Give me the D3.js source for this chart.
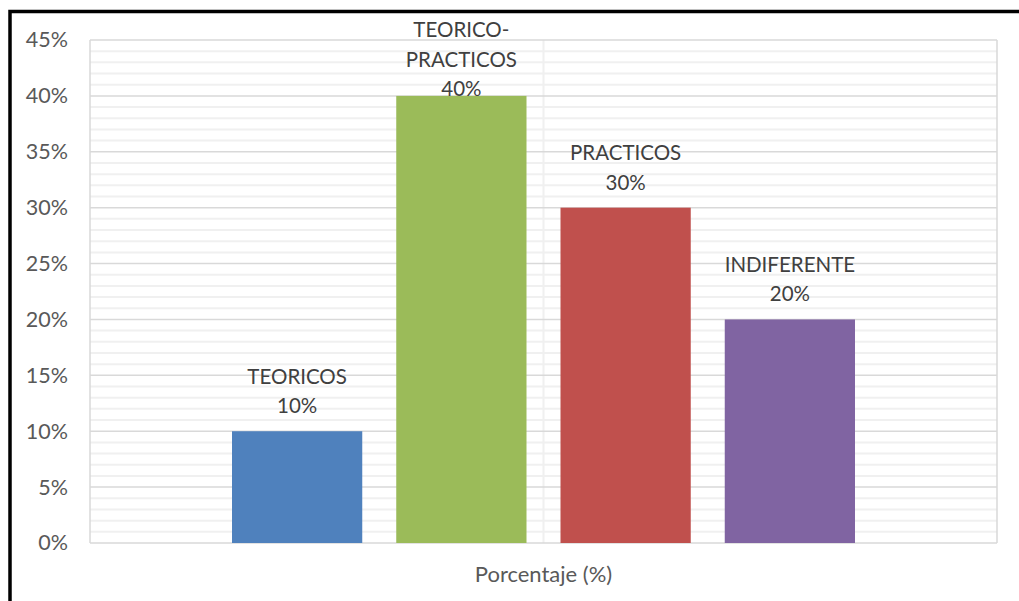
<!DOCTYPE html>
<html>
<head>
<meta charset="utf-8">
<script src="https://cdn.jsdelivr.net/npm/d3@7"></script>
<style>
html,body{margin:0;padding:0;background:#fff;}
svg{display:block;}
</style>
</head>
<body>
<svg id="chart" width="1019" height="601"></svg>
<script>
const categories = ["Porcentaje (%)"];
const seriesNames = ["TEORICOS", "TEORICO-PRACTICOS", "PRACTICOS", "INDIFERENTE"];
const labelLines = [["TEORICOS"], ["TEORICO-", "PRACTICOS"], ["PRACTICOS"], ["INDIFERENTE"]];
const values = [0.10, 0.40, 0.30, 0.20];
const colors = ["#4f81bd", "#9bbb59", "#c0504d", "#8064a2"];
const yTicks = [0, 0.05, 0.10, 0.15, 0.20, 0.25, 0.30, 0.35, 0.40, 0.45];
const yMinorTicks = d3.range(0, 46).map(d => d / 100);

const svg = d3.select("#chart");
const font = "Lato, 'Liberation Sans', sans-serif";
const plot = {left: 90, right: 997, top: 40, bottom: 543};

// frame
svg.append("rect").attr("x", 10).attr("y", 11.5).attr("width", 1030).attr("height", 620)
  .attr("fill", "none").attr("stroke", "#000").attr("stroke-width", 3.5);

const y = d3.scaleLinear().domain([0, 0.45]).range([plot.bottom, plot.top]);
const xCat = d3.scaleBand().domain(categories).range([plot.left, plot.right]);
const xSer = d3.scaleBand().domain(seriesNames)
  .range([xCat(categories[0]) + 142, xCat(categories[0]) + xCat.bandwidth() - 142])
  .paddingInner(0.207);

// minor gridlines
svg.append("g").selectAll("line").data(yMinorTicks.filter(d => Math.round(d * 100) % 5 !== 0))
  .join("line")
  .attr("x1", plot.left).attr("x2", plot.right)
  .attr("y1", d => y(d)).attr("y2", d => y(d))
  .attr("stroke", "#f0f0f0").attr("stroke-width", 2);

// minor vertical gridline at category center
svg.append("line")
  .attr("x1", xCat(categories[0]) + xCat.bandwidth() / 2).attr("x2", xCat(categories[0]) + xCat.bandwidth() / 2)
  .attr("y1", plot.top).attr("y2", plot.bottom)
  .attr("stroke", "#f0f0f0").attr("stroke-width", 2);

// major gridlines
svg.append("g").selectAll("line").data(yTicks).join("line")
  .attr("x1", plot.left).attr("x2", plot.right)
  .attr("y1", d => y(d)).attr("y2", d => y(d))
  .attr("stroke", "#d9d9d9").attr("stroke-width", 1.5);

// vertical boundary lines
svg.append("g").selectAll("line").data([plot.left, plot.right]).join("line")
  .attr("x1", d => d).attr("x2", d => d)
  .attr("y1", plot.top).attr("y2", plot.bottom)
  .attr("stroke", "#d9d9d9").attr("stroke-width", 1.5);

// y axis labels
const yAxis = d3.axisLeft(y).tickValues(yTicks).tickFormat(d3.format(".0%")).tickSize(0).tickPadding(22);
const gy = svg.append("g").attr("transform", `translate(${plot.left},0)`).call(yAxis);
gy.select(".domain").remove();
gy.selectAll("text").attr("font-family", font).attr("font-size", 21.5).attr("fill", "#595959");

// bars
svg.append("g").selectAll("rect").data(seriesNames).join("rect")
  .attr("x", d => xSer(d))
  .attr("width", xSer.bandwidth())
  .attr("y", (d, i) => y(values[i]))
  .attr("height", (d, i) => y(0) - y(values[i]))
  .attr("fill", (d, i) => colors[i]);

// data labels
const lineH = 29.5;
const minFirstBaseline = 37;
seriesNames.forEach((s, i) => {
  const lines = labelLines[i].concat([d3.format(".0%")(values[i])]);
  const n = lines.length;
  const lastBaseline = Math.max(y(values[i]) - 18, minFirstBaseline + (n - 1) * lineH);
  const cx = xSer(s) + xSer.bandwidth() / 2;
  svg.append("g").selectAll("text").data(lines).join("text")
    .attr("x", cx)
    .attr("y", (d, j) => lastBaseline - (n - 1 - j) * lineH)
    .attr("text-anchor", "middle")
    .attr("font-family", font).attr("font-size", 20.5).attr("fill", "#404040")
    .text(d => d);
});

// x axis category label
svg.append("text")
  .attr("x", xCat(categories[0]) + xCat.bandwidth() / 2)
  .attr("y", 582)
  .attr("text-anchor", "middle")
  .attr("font-family", font).attr("font-size", 22).attr("fill", "#595959")
  .text(categories[0]);
</script>
</body>
</html>
